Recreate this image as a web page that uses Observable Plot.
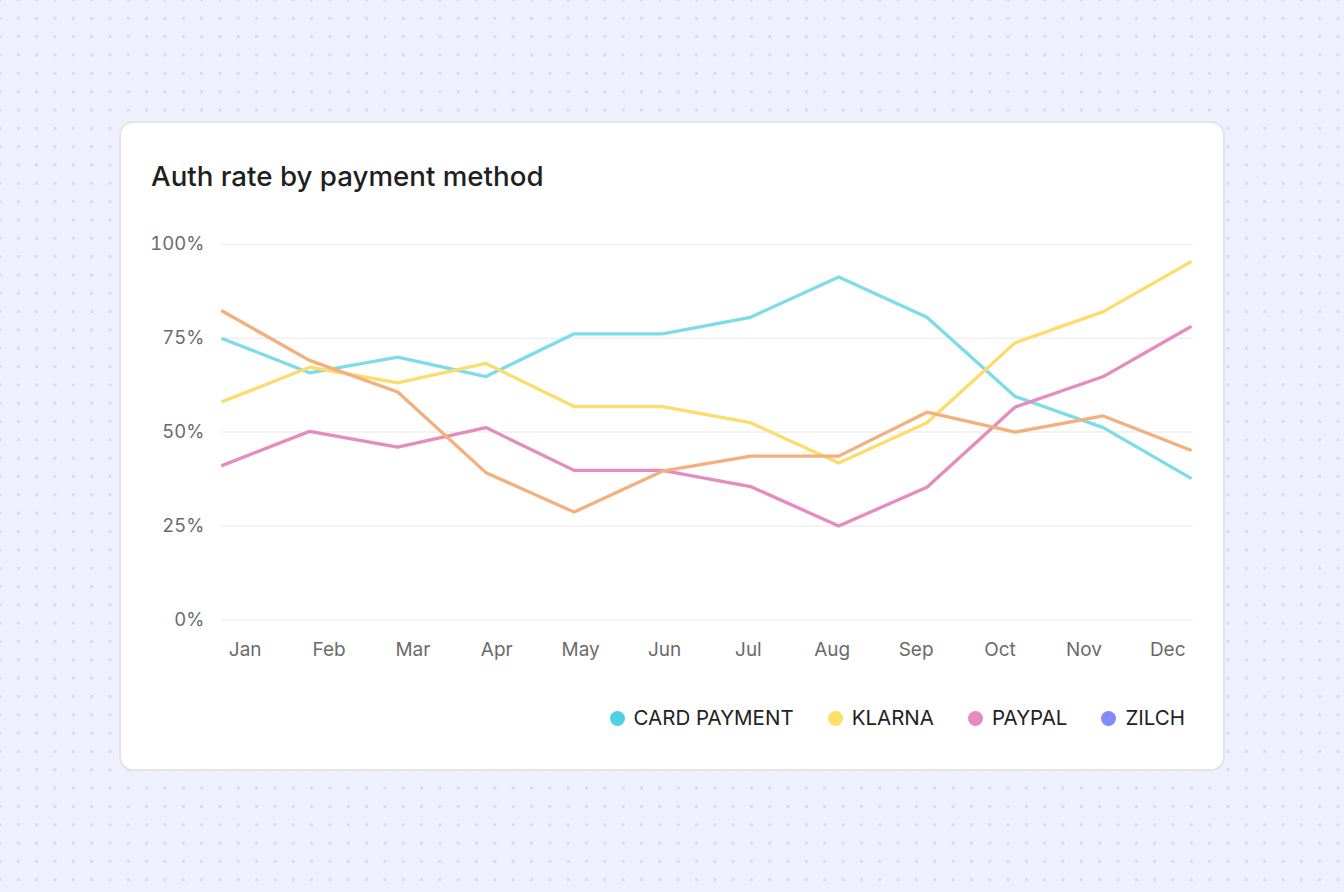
<!DOCTYPE html>
<html>
<head>
<meta charset="utf-8">
<script src="https://cdn.jsdelivr.net/npm/d3@7"></script>
<script src="https://cdn.jsdelivr.net/npm/@observablehq/plot@0.6"></script>
<style>
  html, body { margin: 0; padding: 0; }
  body {
    width: 1344px; height: 892px; position: relative; overflow: hidden;
    background-color: #eef0fe;
    background-image: radial-gradient(circle, #d3d7fb 1.3px, transparent 1.7px);
    background-size: 18.33px 18.33px;
    background-position: -9.17px -9.17px;
    font-family: Inter, "Noto Sans", sans-serif;
  }
  #card {
    position: absolute; left: 119px; top: 121px; width: 1102px; height: 646px;
    background: #fff; border: 2px solid #e3e3e8; border-radius: 14px;
  }
  #title {
    position: absolute; left: 30px; top: 37px; margin: 0;
    font-size: 27.7px; font-weight: 500; color: #1f1f1f; line-height: 32px;
  }
  #chart { position: absolute; left: -2px; top: 97px; }
  #legend {
    position: absolute; right: 38px; top: 582px; display: flex; align-items: center;
    font-size: 20.5px; color: #222; line-height: 26px;
  }
  .item { display: flex; align-items: center; margin-left: 34px; }
  .dot { width: 15px; height: 15px; border-radius: 50%; margin-right: 9px; }
</style>
</head>
<body>
<div id="card">
  <h2 id="title">Auth rate by payment method</h2>
  <div id="chart"></div>
  <div id="legend"></div>
</div>
<script>
const months = ["Jan","Feb","Mar","Apr","May","Jun","Jul","Aug","Sep","Oct","Nov","Dec"];
const cardPayment = [75.0, 65.8, 70.0, 64.8, 76.2, 76.2, 80.6, 91.3, 80.6, 59.5, 51.2, 37.6];
const klarna      = [58.0, 67.3, 63.1, 68.3, 56.8, 56.8, 52.5, 41.8, 52.5, 73.8, 82.1, 95.5];
const paypal      = [41.0, 50.2, 46.0, 51.2, 39.8, 39.8, 35.5, 25.0, 35.3, 56.7, 64.8, 78.2];
const zilch       = [82.4, 69.1, 60.7, 39.2, 28.7, 39.6, 43.6, 43.6, 55.3, 50.0, 54.3, 45.1];
const yTicks = [0, 25, 50, 75, 100];

const seriesNames = ["CARD PAYMENT", "KLARNA", "PAYPAL", "ZILCH"];
const lineColors = ["#7ddcea", "#fedc6b", "#e68bbf", "#f3b07c"];
const legendColors = ["#4fd1e3", "#fde068", "#e68bbf", "#828cf9"];
const seriesValues = [cardPayment, klarna, paypal, zilch];

const rows = seriesNames.flatMap((name, s) =>
  seriesValues[s].map((v, i) => ({series: name, i, month: months[i], value: v})));

// month labels sit slightly inside the first/last data points
const labelPos = d3.scaleLinear().domain([0, months.length - 1]).range([0.27, months.length - 1.27]);
const labelTicks = months.map((m, i) => labelPos(i));

const chart = Plot.plot({
  width: 1106,
  height: 450,
  marginLeft: 102,
  marginRight: 32,
  marginTop: 24,
  marginBottom: 50,
  style: {fontFamily: "Inter, 'Noto Sans', sans-serif", fontSize: "18px", color: "#6b6b6b", background: "transparent", overflow: "visible"},
  x: {type: "linear", domain: [0, months.length - 1], axis: null},
  y: {domain: [0, 100], axis: null},
  color: {domain: seriesNames, range: lineColors},
  marks: [
    Plot.gridY(yTicks, {stroke: "#efefef", strokeOpacity: 1, strokeWidth: 1.5, x1: 0, x2: months.length - 1 + 0.02}),
    Plot.axisY(yTicks, {tickSize: 0, tickPadding: 17, tickFormat: d => d + "%", label: null, fontSize: 18.5}),
    Plot.axisX(labelTicks, {tickSize: 0, tickPadding: 23, tickFormat: v => months[Math.round(labelPos.invert(v))], label: null, fontSize: 19}),
    Plot.line(rows, {x: "i", y: "value", z: "series", stroke: "series", strokeWidth: 3.3, strokeLinejoin: "round", strokeLinecap: "butt"})
  ]
});
document.getElementById("chart").appendChild(chart);

const legend = document.getElementById("legend");
seriesNames.forEach((name, s) => {
  const item = document.createElement("div");
  item.className = "item";
  const dot = document.createElement("span");
  dot.className = "dot";
  dot.style.background = legendColors[s];
  const label = document.createElement("span");
  label.textContent = name;
  item.appendChild(dot);
  item.appendChild(label);
  legend.appendChild(item);
});
</script>
</body>
</html>
